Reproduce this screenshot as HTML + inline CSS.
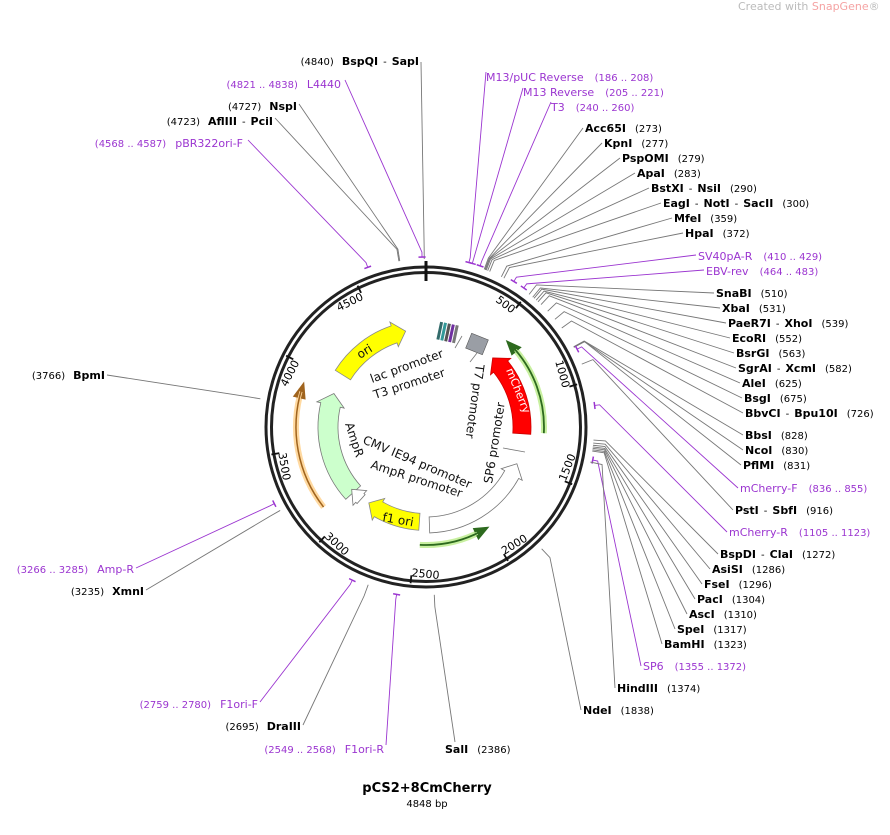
<!DOCTYPE html>
<html><head><meta charset="utf-8"><style>
html,body{margin:0;padding:0;background:#fff;width:890px;height:835px;overflow:hidden}
svg{display:block;font-family:"DejaVu Sans","Liberation Sans",sans-serif}
.b{font-weight:bold;font-size:11px;fill:#000}
.n{font-size:10px;fill:#000}
.p{font-size:11px;fill:#9b35d0}
.pn{font-size:10px;fill:#9b35d0}
.f{font-size:12px;fill:#111}
</style></head><body>
<svg id="s" width="890" height="835" viewBox="0 0 890 835">
<g id="g"></g>
<text x="738" y="10" font-size="11" fill="#bbb">Created with <tspan fill="#f5a3a3">SnapGene</tspan>®</text>
<text x="585" y="132"><tspan class="b">Acc65I</tspan><tspan class="n" dx="9">(273)</tspan></text>
<text x="604" y="147"><tspan class="b">KpnI</tspan><tspan class="n" dx="9">(277)</tspan></text>
<text x="622" y="162"><tspan class="b">PspOMI</tspan><tspan class="n" dx="9">(279)</tspan></text>
<text x="637" y="177"><tspan class="b">ApaI</tspan><tspan class="n" dx="9">(283)</tspan></text>
<text x="651" y="192"><tspan class="b">BstXI</tspan><tspan class="n" dx="5">-</tspan><tspan class="b" dx="5">NsiI</tspan><tspan class="n" dx="9">(290)</tspan></text>
<text x="663" y="207"><tspan class="b">EagI</tspan><tspan class="n" dx="5">-</tspan><tspan class="b" dx="5">NotI</tspan><tspan class="n" dx="5">-</tspan><tspan class="b" dx="5">SacII</tspan><tspan class="n" dx="9">(300)</tspan></text>
<text x="674" y="222"><tspan class="b">MfeI</tspan><tspan class="n" dx="9">(359)</tspan></text>
<text x="685" y="237"><tspan class="b">HpaI</tspan><tspan class="n" dx="9">(372)</tspan></text>
<text x="698" y="260"><tspan class="p">SV40pA-R</tspan><tspan class="pn" dx="11">(410 .. 429)</tspan></text>
<text x="706" y="275"><tspan class="p">EBV-rev</tspan><tspan class="pn" dx="11">(464 .. 483)</tspan></text>
<text x="716" y="297"><tspan class="b">SnaBI</tspan><tspan class="n" dx="9">(510)</tspan></text>
<text x="722" y="312"><tspan class="b">XbaI</tspan><tspan class="n" dx="9">(531)</tspan></text>
<text x="728" y="327"><tspan class="b">PaeR7I</tspan><tspan class="n" dx="5">-</tspan><tspan class="b" dx="5">XhoI</tspan><tspan class="n" dx="9">(539)</tspan></text>
<text x="732" y="342"><tspan class="b">EcoRI</tspan><tspan class="n" dx="9">(552)</tspan></text>
<text x="736" y="357"><tspan class="b">BsrGI</tspan><tspan class="n" dx="9">(563)</tspan></text>
<text x="738" y="372"><tspan class="b">SgrAI</tspan><tspan class="n" dx="5">-</tspan><tspan class="b" dx="5">XcmI</tspan><tspan class="n" dx="9">(582)</tspan></text>
<text x="742" y="387"><tspan class="b">AleI</tspan><tspan class="n" dx="9">(625)</tspan></text>
<text x="744" y="402"><tspan class="b">BsgI</tspan><tspan class="n" dx="9">(675)</tspan></text>
<text x="745" y="417"><tspan class="b">BbvCI</tspan><tspan class="n" dx="5">-</tspan><tspan class="b" dx="5">Bpu10I</tspan><tspan class="n" dx="9">(726)</tspan></text>
<text x="745" y="439"><tspan class="b">BbsI</tspan><tspan class="n" dx="9">(828)</tspan></text>
<text x="745" y="454"><tspan class="b">NcoI</tspan><tspan class="n" dx="9">(830)</tspan></text>
<text x="743" y="469"><tspan class="b">PflMI</tspan><tspan class="n" dx="9">(831)</tspan></text>
<text x="740" y="492"><tspan class="p">mCherry-F</tspan><tspan class="pn" dx="11">(836 .. 855)</tspan></text>
<text x="735" y="514"><tspan class="b">PstI</tspan><tspan class="n" dx="5">-</tspan><tspan class="b" dx="5">SbfI</tspan><tspan class="n" dx="9">(916)</tspan></text>
<text x="729" y="536"><tspan class="p">mCherry-R</tspan><tspan class="pn" dx="11">(1105 .. 1123)</tspan></text>
<text x="720" y="558"><tspan class="b">BspDI</tspan><tspan class="n" dx="5">-</tspan><tspan class="b" dx="5">ClaI</tspan><tspan class="n" dx="9">(1272)</tspan></text>
<text x="712" y="573"><tspan class="b">AsiSI</tspan><tspan class="n" dx="9">(1286)</tspan></text>
<text x="704" y="588"><tspan class="b">FseI</tspan><tspan class="n" dx="9">(1296)</tspan></text>
<text x="697" y="603"><tspan class="b">PacI</tspan><tspan class="n" dx="9">(1304)</tspan></text>
<text x="689" y="618"><tspan class="b">AscI</tspan><tspan class="n" dx="9">(1310)</tspan></text>
<text x="677" y="633"><tspan class="b">SpeI</tspan><tspan class="n" dx="9">(1317)</tspan></text>
<text x="664" y="648"><tspan class="b">BamHI</tspan><tspan class="n" dx="9">(1323)</tspan></text>
<text x="643" y="670"><tspan class="p">SP6</tspan><tspan class="pn" dx="11">(1355 .. 1372)</tspan></text>
<text x="617" y="692"><tspan class="b">HindIII</tspan><tspan class="n" dx="9">(1374)</tspan></text>
<text x="583" y="714"><tspan class="b">NdeI</tspan><tspan class="n" dx="9">(1838)</tspan></text>
<text x="445" y="753"><tspan class="b">SalI</tspan><tspan class="n" dx="9">(2386)</tspan></text>
<text x="486" y="81"><tspan class="p">M13/pUC Reverse</tspan><tspan class="pn" dx="11">(186 .. 208)</tspan></text>
<text x="523" y="96"><tspan class="p">M13 Reverse</tspan><tspan class="pn" dx="11">(205 .. 221)</tspan></text>
<text x="551" y="111"><tspan class="p">T3</tspan><tspan class="pn" dx="11">(240 .. 260)</tspan></text>
<text x="419" y="65" text-anchor="end"><tspan class="n">(4840)</tspan><tspan class="b" dx="8">BspQI</tspan><tspan class="n" dx="5">-</tspan><tspan class="b" dx="5">SapI</tspan></text>
<text x="341" y="88" text-anchor="end"><tspan class="pn">(4821 .. 4838)</tspan><tspan class="p" dx="9">L4440</tspan></text>
<text x="297" y="110" text-anchor="end"><tspan class="n">(4727)</tspan><tspan class="b" dx="8">NspI</tspan></text>
<text x="273" y="125" text-anchor="end"><tspan class="n">(4723)</tspan><tspan class="b" dx="8">AflIII</tspan><tspan class="n" dx="5">-</tspan><tspan class="b" dx="5">PciI</tspan></text>
<text x="243" y="147" text-anchor="end"><tspan class="pn">(4568 .. 4587)</tspan><tspan class="p" dx="9">pBR322ori-F</tspan></text>
<text x="105" y="379" text-anchor="end"><tspan class="n">(3766)</tspan><tspan class="b" dx="8">BpmI</tspan></text>
<text x="134" y="573" text-anchor="end"><tspan class="pn">(3266 .. 3285)</tspan><tspan class="p" dx="9">Amp-R</tspan></text>
<text x="144" y="595" text-anchor="end"><tspan class="n">(3235)</tspan><tspan class="b" dx="8">XmnI</tspan></text>
<text x="258" y="708" text-anchor="end"><tspan class="pn">(2759 .. 2780)</tspan><tspan class="p" dx="9">F1ori-F</tspan></text>
<text x="301" y="730" text-anchor="end"><tspan class="n">(2695)</tspan><tspan class="b" dx="8">DraIII</tspan></text>
<text x="384" y="753" text-anchor="end"><tspan class="pn">(2549 .. 2568)</tspan><tspan class="p" dx="9">F1ori-R</tspan></text>
<text class="f" transform="translate(372,383) rotate(-20)">lac promoter</text>
<text class="f" transform="translate(375,399) rotate(-18)">T3 promoter</text>
<text class="f" transform="translate(476,364) rotate(98)">T7 promoter</text>
<text class="f" transform="translate(492,484) rotate(-81)">SP6 promoter</text>
<text class="f" transform="translate(362,443) rotate(23)">CMV IE94 promoter</text>
<text class="f" transform="translate(370,468) rotate(18)">AmpR promoter</text>
<text class="f" transform="translate(345,424) rotate(72)">AmpR</text>
<text class="f" transform="translate(360,359) rotate(-32)" fill="#000">ori</text>
<text class="f" transform="translate(506,370) rotate(68)" style="fill:#fff;font-size:11px">mCherry</text>
<text class="f" transform="translate(382,521) rotate(10)">f1 ori</text>
<text x="427" y="792" text-anchor="middle" font-weight="bold" font-size="13">pCS2+8CmCherry</text>
<text x="427" y="807" text-anchor="middle" font-size="10">4848 bp</text>
</svg>
<script>
const cx=426,cy=427,N=4848,NS="http://www.w3.org/2000/svg",G=document.getElementById('g');
function P(r,a){const t=a*Math.PI/180;return [cx+r*Math.sin(t),cy-r*Math.cos(t)];}
function A(p){return p/N*360;}
function el(t,at){const e=document.createElementNS(NS,t);for(const k in at)e.setAttribute(k,at[k]);G.appendChild(e);return e;}
function arrow(r,a1,a2,w,fill,stroke){
 const d=a2>a1?1:-1,h=7*d,b=a2-h;
 const o=r+w/2,i=r-w/2,big=Math.abs(b-a1)>180?1:0,sw=d>0?1:0,sw2=1-sw;
 const p=[P(o,a1),P(o,b),P(o+4,b),P(r,a2),P(i-4,b),P(i,b),P(i,a1)];
 el('path',{d:`M${p[0]} A${o},${o} 0 ${big} ${sw} ${p[1]} L${p[2]} L${p[3]} L${p[4]} L${p[5]} A${i},${i} 0 ${big} ${sw2} ${p[6]} Z`,fill:fill,stroke:stroke,'stroke-width':0.8});
}
function arc(r,a1,a2,col,wd){const big=Math.abs(a2-a1)>180?1:0,sw=a2>a1?1:0;el('path',{d:`M${P(r,a1)} A${r},${r} 0 ${big} ${sw} ${P(r,a2)}`,fill:'none',stroke:col,'stroke-width':wd});}
arc(130,232,287,'#ffd9a0',6);arc(130,232,287,'#a0641e',1.5);arrow(130,286,290,4,'#a0641e','#a0641e');
arc(118,93,47,'#c8f0a0',6);arc(118,93,47,'#2d6a1e',1.8);arrow(118,49,43,4,'#2d6a1e','#2d6a1e');
arc(118,183,152,'#c8f0a0',6);arc(118,183,152,'#2d6a1e',1.8);arrow(118,154,148,4,'#2d6a1e','#2d6a1e');
arrow(98,302,348,18,'#ffff00','#888');
arrow(96,94,44,18,'#ff0000','#c00');
arrow(98,228,290,20,'#ccffcc','#777');
arrow(95,184,217,17,'#ffff00','#888');
arrow(97,222,230,12,'#fff','#777');
arrow(98,178,112,16,'#fff','#777');
el('rect',{x:468,y:336,width:18,height:16,fill:'#9a9ea5',stroke:'#555','stroke-width':0.6,transform:'rotate(22 477 344)'});
[[438,'#336b6b'],[442,'#339999'],[446,'#555'],[450,'#7030a0'],[454,'#777']].forEach(([x,c])=>el('rect',{x:x,y:324,width:3,height:18,fill:c,transform:'rotate(12 450 333)'}));
el('line',{x1:462,y1:336,x2:455,y2:348,stroke:'#777','stroke-width':0.8});
el('line',{x1:477,y1:353,x2:470,y2:362,stroke:'#777','stroke-width':0.8});
el('line',{x1:503,y1:448,x2:525,y2:452,stroke:'#777','stroke-width':0.8});
el('circle',{cx:cx,cy:cy,r:160,fill:'none',stroke:'#222','stroke-width':3});
el('circle',{cx:cx,cy:cy,r:154.5,fill:'none',stroke:'#222','stroke-width':3});
el('line',{x1:cx,y1:cy-166,x2:cx,y2:cy-146,stroke:'#111','stroke-width':3});
for(let k=500;k<N;k+=500){const a=A(k);const p1=P(149,a),p2=P(157,a);el('line',{x1:p1[0],y1:p1[1],x2:p2[0],y2:p2[1],stroke:'#111','stroke-width':1.8});
 const q=P(146,a);let rot=a<90?a:(a<270?a-180:a-360);const anc=(a<90||a>270)?'end':'start';
 const t=el('text',{x:q[0],y:q[1]+4,'font-size':11,'text-anchor':anc,transform:`rotate(${rot} ${q[0]} ${q[1]})`});t.textContent=k;}
const R=[[583,128,273],[602,143,277],[620,158,279],[635,173,283],[649,188,290],[661,203,300],[672,218,359],[683,233,372],[696,255,419,1],[704,270,473,1],[714,293,510],[720,308,531],[726,323,539],[730,338,552],[734,353,563],[736,368,582],[740,383,625],[742,398,675],[743,413,726],[743,435,828],[743,450,830],[741,465,831],[738,488,845,1],[733,510,916],[727,532,1114,1],[718,554,1272],[710,569,1286],[702,584,1296],[695,599,1304],[687,614,1310],[675,629,1317],[662,644,1323],[641,666,1363,1],[615,688,1374],[581,710,1838],[455,742,2386],
[486,72,197,1],[523,88,213,1],[551,102,250,1],
[421,62,4840],[345,80,4830,1],[299,104,4727],[275,118,4723],[248,140,4578,1],[107,375,3766],[136,568,3275,1],[146,590,3235],[260,702,2770,1],[303,725,2695],[386,745,2558,1]];
R.forEach(([x,y,p,pu])=>{const a=A(p);const q1=P(pu?170:168,a),q2=P(pu?175:180,a);const c=pu?'#9b35d0':'#777';
 el('polyline',{points:`${x},${y} ${q2} ${q1}`,fill:'none',stroke:c,'stroke-width':0.9});
 if(pu){const t1=P(170,a-1.2),t2=P(170,a+1.2);el('line',{x1:t1[0],y1:t1[1],x2:t2[0],y2:t2[1],stroke:c,'stroke-width':1.5});}});
</script>
</body></html>
